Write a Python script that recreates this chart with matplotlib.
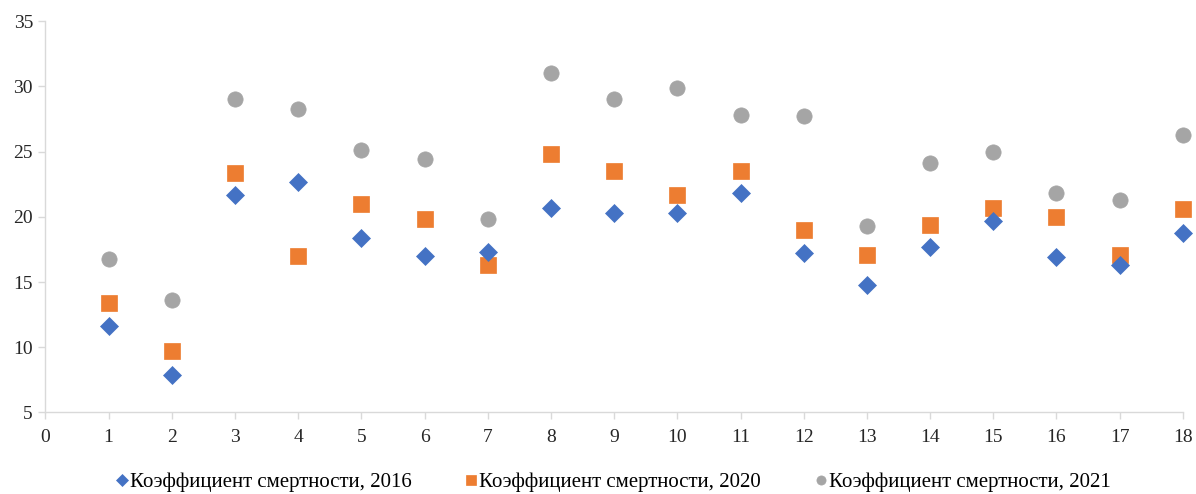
import matplotlib
matplotlib.use("Agg")
import matplotlib.pyplot as plt

regions = list(range(1, 19))
mort_2016 = [11.6, 7.9, 21.7, 22.7, 18.4, 17.0, 17.3, 20.7, 20.3,
             20.3, 21.8, 17.2, 14.8, 17.7, 19.7, 16.9, 16.3, 18.8]
mort_2020 = [13.4, 9.7, 23.4, 17.0, 21.0, 19.8, 16.3, 24.8, 23.5,
             21.7, 23.5, 19.0, 17.1, 19.4, 20.7, 20.0, 17.1, 20.6]
mort_2021 = [16.8, 13.6, 29.0, 28.3, 25.1, 24.4, 19.8, 31.0, 29.0,
             29.9, 27.8, 27.7, 19.3, 24.1, 25.0, 21.8, 21.3, 26.3]
labels = ["Коэффициент смертности, 2016",
          "Коэффициент смертности, 2020",
          "Коэффициент смертности, 2021"]

plt.rcParams['font.family'] = ['Liberation Serif', 'DejaVu Serif']

fig = plt.figure(figsize=(11.96, 4.94), dpi=100)
ax = fig.add_axes([0.038, 0.165, 0.951, 0.792])

ax.plot(regions, mort_2016, linestyle='none', marker='D', ms=9.5,
        color='#4472C4', mec='#4472C4', mew=0.5, label=labels[0],
        zorder=3, clip_on=False)
ax.plot(regions, mort_2020, linestyle='none', marker='s', ms=12,
        color='#ED7D31', mec='#ED7D31', mew=0.5, label=labels[1],
        zorder=2, clip_on=False)
ax.plot(regions, mort_2021, linestyle='none', marker='o', ms=11,
        color='#A5A5A5', mec='#A5A5A5', mew=0.5, label=labels[2],
        zorder=1, clip_on=False)

ax.set_xlim(0, 18)
ax.set_ylim(5, 35)
ax.set_xticks(range(0, 19))
ax.set_yticks(range(5, 36, 5))

for side in ['top', 'right']:
    ax.spines[side].set_visible(False)
for side in ['left', 'bottom']:
    ax.spines[side].set_color('#D9D9D9')
    ax.spines[side].set_linewidth(1)
ax.tick_params(axis='both', colors='#D9D9D9', labelcolor='#262626',
               labelsize=14, length=5, width=1)
ax.tick_params(axis='x', pad=7)
ax.tick_params(axis='y', pad=4)

fig.legend(loc='center', bbox_to_anchor=(0.513, 0.024), ncol=3,
           frameon=False, fontsize=15, handlelength=0.5, handletextpad=0.15,
           columnspacing=2.6, markerscale=0.6)

fig.savefig("out.png", dpi=100)
